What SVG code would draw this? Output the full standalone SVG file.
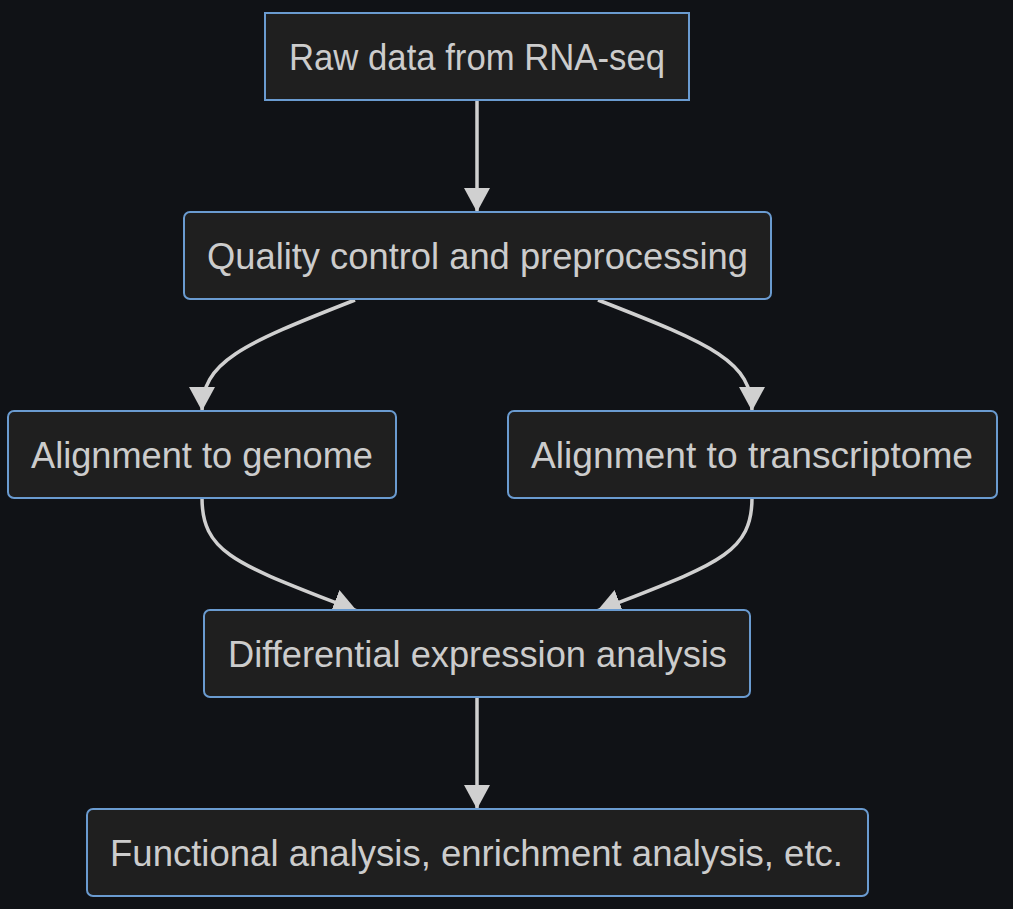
<svg xmlns="http://www.w3.org/2000/svg" width="1013" height="909" viewBox="0 0 1013 909">
<style>
.bg{fill:#101216}
.node rect{fill:#1f1f1f;stroke:#6a9bd0;stroke-width:2}
.node text{fill:#cccccc;font-family:"Liberation Sans",Arial,sans-serif;font-size:36px;text-anchor:middle}
.edge{fill:none;stroke:#d0d0d0;stroke-width:3.5}
</style>
<defs>
<marker id="arr" markerUnits="userSpaceOnUse" markerWidth="26" markerHeight="28" viewBox="0 0 26 28" refX="24" refY="13" orient="auto">
<path d="M0,0 L24,13 L0,26 z" fill="#d0d0d0"/>
</marker>
</defs>
<rect class="bg" x="0" y="0" width="1013" height="909"/>
<g id="connectors">
<path class="edge" d="M477,100 L477,212" marker-end="url(#arr)"/>
<path class="edge" d="M355,300 C240,345 202,362 202,411" marker-end="url(#arr)"/>
<path class="edge" d="M598,300 C714,345 752,362 752,411" marker-end="url(#arr)"/>
<path class="edge" d="M202,498 C202,555 240,565 357,611" marker-end="url(#arr)"/>
<path class="edge" d="M752,498 C752,555 714,565 597,611" marker-end="url(#arr)"/>
<path class="edge" d="M477,697 L477,809" marker-end="url(#arr)"/>
</g>
<g id="node-raw" class="node">
<rect x="265" y="13" width="424" height="87"/>
<text x="477" y="70" textLength="376" lengthAdjust="spacingAndGlyphs">Raw data from RNA-seq</text>
</g>
<g id="node-qc" class="node">
<rect x="184" y="212" width="587" height="87" rx="6"/>
<text x="477.5" y="269" textLength="541" lengthAdjust="spacingAndGlyphs">Quality control and preprocessing</text>
</g>
<g id="node-genome" class="node">
<rect x="8" y="411" width="388" height="87" rx="6"/>
<text x="202" y="468" textLength="342" lengthAdjust="spacingAndGlyphs">Alignment to genome</text>
</g>
<g id="node-transcriptome" class="node">
<rect x="508" y="411" width="489" height="87" rx="6"/>
<text x="752" y="468" textLength="442" lengthAdjust="spacingAndGlyphs">Alignment to transcriptome</text>
</g>
<g id="node-de" class="node">
<rect x="204" y="610" width="546" height="87" rx="6"/>
<text x="477.5" y="667" textLength="499" lengthAdjust="spacingAndGlyphs">Differential expression analysis</text>
</g>
<g id="node-func" class="node">
<rect x="87" y="809" width="781" height="87" rx="6"/>
<text x="476.5" y="866" textLength="733" lengthAdjust="spacingAndGlyphs">Functional analysis, enrichment analysis, etc.</text>
</g>
</svg>
